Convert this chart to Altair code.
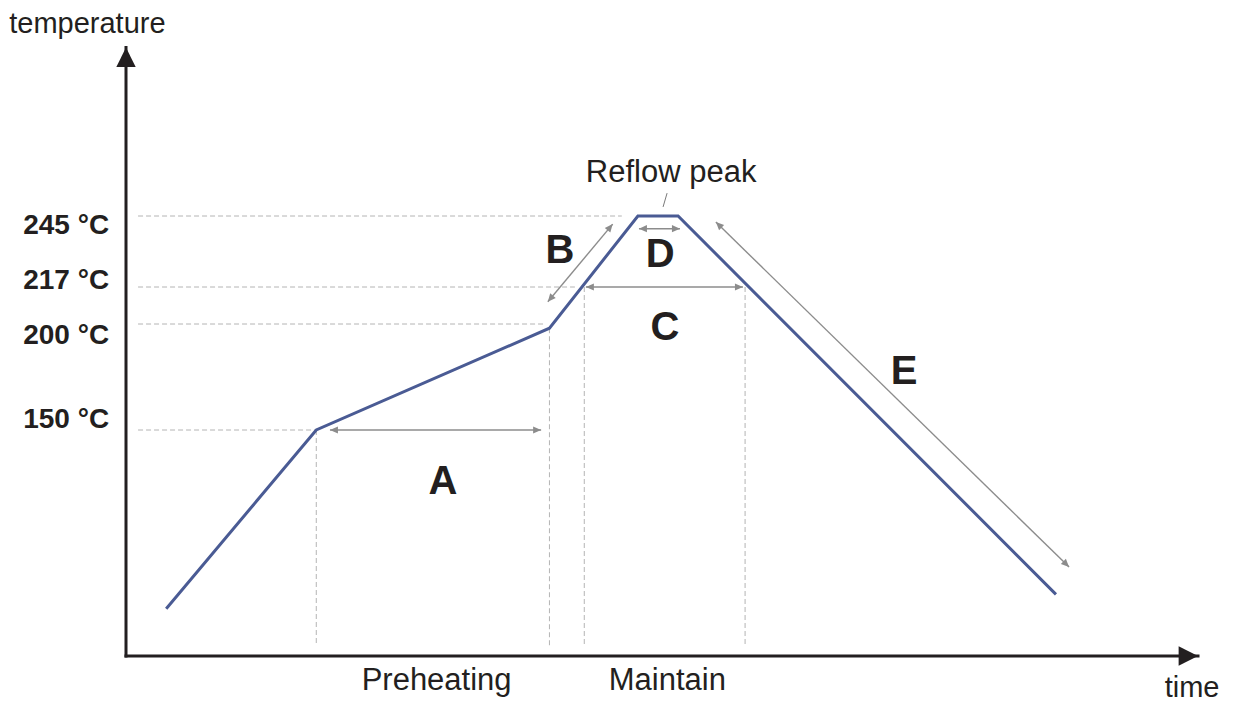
import altair as alt
import pandas as pd

# ---------------- data (time in arbitrary units, temperature in °C) ----------------
profile_time = [15, 71, 158, 191, 206, 347]
profile_temp = [63, 150, 198, 245, 245, 70]

level_temp = [245, 217, 200, 150]
level_label = ["245 °C", "217 °C", "200 °C", "150 °C"]
level_end_time = [185, 167.5, 156, 71]

drop_time = [71, 158, 171, 231]
drop_top_temp = [150, 198, 217, 217]

span_name = ["A", "B", "C", "D", "E"]
span_t1 = [76.1, 157.4, 171.6, 191.4, 220.1]
span_T1 = [150, 210.2, 217, 240, 242.6]
span_t2 = [154.9, 181.6, 230.2, 206.7, 351.9]
span_T2 = [150, 241.8, 217, 240, 83.3]

letter_t = [118.3, 161.9, 201.1, 199.3, 290.3]
letter_T = [118.9, 226.5, 192.5, 224.9, 171.7]

phase_label = ["Preheating", "Maintain"]
phase_t = [115.9, 202]
phase_T = [23.5, 23.5]

peak_label = "Reflow peak"
peak_t, peak_T = 203.4, 258.5
leader_t = [200.4, 201.9]
leader_T = [248.6, 254.1]

axis_t_max = 400
axis_T_min, axis_T_max = 40, 312

# ---------------- layout / style ----------------
span_angle1 = [270, 219.9, 270, 270, 314.3]
span_angle2 = [90, 39.9, 90, 90, 134.3]
level_dy = [18, 2, 20, -2]
FONT = "Liberation Sans"
INK = "#231f20"
LINE = "#4a5b94"
GREY = "#8c8c8c"
DASH = "#b4b4b4"
HEAD = "M0,0 L0.45,1 L-0.45,1 Z"
AXHEAD = "M0,0 L0.5,1 L-0.5,1 Z"

xs = alt.Scale(domain=[0, 400], range=[118, 1190], nice=False, zero=False)
ys = alt.Scale(domain=[40, 150, 200, 217, 245, 313], range=[648, 422, 316, 279, 208, 37],
               nice=False, zero=False)


def X(f="t"):
    return alt.X(f"{f}:Q", scale=xs, axis=None)


def Y(f="T"):
    return alt.Y(f"{f}:Q", scale=ys, axis=None)


profile = pd.DataFrame({"t": profile_time, "T": profile_temp, "i": range(len(profile_time))})

hlines = pd.DataFrame({"t": [4.5] * 4, "t2": level_end_time, "T": level_temp})
vlines = pd.DataFrame({"t": drop_time, "T": drop_top_temp, "T2": [45] * 4})
spans = pd.DataFrame({"t": span_t1, "T": span_T1, "t2": span_t2, "T2": span_T2})
heads = pd.DataFrame({
    "t": span_t1 + span_t2,
    "T": span_T1 + span_T2,
    "a": span_angle1 + span_angle2,
})
letters = pd.DataFrame({"t": letter_t, "T": letter_T, "s": span_name})
phases = pd.DataFrame({"t": phase_t, "T": phase_T, "s": phase_label})
peak = pd.DataFrame({"t": [peak_t], "T": [peak_T], "s": [peak_label]})
leader = pd.DataFrame({"t": [leader_t[0]], "T": [leader_T[0]], "t2": [leader_t[1]], "T2": [leader_T[1]]})
axes = pd.DataFrame({"t": [0, 0], "T": [axis_T_min, axis_T_min],
                     "t2": [0, axis_t_max], "T2": [axis_T_max, axis_T_min]})
axheads = pd.DataFrame({"t": [0, axis_t_max], "T": [axis_T_max, axis_T_min], "a": [0, 90]})
axtitles = pd.DataFrame({"t": [-14.4, 397.8], "T": [317.8, 20], "s": ["temperature", "time"]})

layers = []

layers.append(alt.Chart(hlines).mark_rule(color=DASH, strokeWidth=1, strokeDash=[5, 3]).encode(
    x=X(), x2="t2:Q", y=Y()))
layers.append(alt.Chart(vlines).mark_rule(color=DASH, strokeWidth=1, strokeDash=[5, 3]).encode(
    x=X(), y=Y(), y2="T2:Q"))

layers.append(alt.Chart(spans).mark_rule(color=GREY, strokeWidth=1.4).encode(
    x=X(), y=Y(), x2="t2:Q", y2="T2:Q"))
layers.append(alt.Chart(heads).mark_point(shape=HEAD, filled=True, color=GREY, opacity=1,
                                          size=256, strokeWidth=0).encode(
    x=X(), y=Y(), angle=alt.Angle("a:Q", scale=None)))

layers.append(alt.Chart(leader).mark_rule(color="#7a7a7a", strokeWidth=1).encode(
    x=X(), y=Y(), x2="t2:Q", y2="T2:Q"))

layers.append(alt.Chart(profile).mark_line(color=LINE, strokeWidth=3, strokeJoin="miter").encode(
    x=X(), y=Y(), order="i:Q"))

layers.append(alt.Chart(axes).mark_rule(color=INK, strokeWidth=3, strokeCap="square").encode(
    x=X(), y=Y(), x2="t2:Q", y2="T2:Q"))
layers.append(alt.Chart(axheads).mark_point(shape=AXHEAD, filled=True, color=INK, opacity=1,
                                            size=1500, strokeWidth=0).encode(
    x=X(), y=Y(), angle=alt.Angle("a:Q", scale=None)))

layers.append(alt.Chart(letters).mark_text(font=FONT, fontSize=40, fontWeight="bold", color=INK,
                                           baseline="alphabetic", align="center").encode(
    x=X(), y=Y(), text="s:N"))
layers.append(alt.Chart(phases).mark_text(font=FONT, fontSize=31, color=INK,
                                          baseline="alphabetic", align="center").encode(
    x=X(), y=Y(), text="s:N"))
layers.append(alt.Chart(peak).mark_text(font=FONT, fontSize=31, color=INK,
                                        baseline="alphabetic", align="center").encode(
    x=X(), y=Y(), text="s:N"))
layers.append(alt.Chart(axtitles).mark_text(font=FONT, fontSize=29, color=INK,
                                            baseline="alphabetic", align="center").encode(
    x=X(), y=Y(), text="s:N"))

for temp, lab, dy in zip(level_temp, level_label, level_dy):
    d = pd.DataFrame({"t": [-6.3], "T": [temp], "s": [lab]})
    layers.append(alt.Chart(d).mark_text(font=FONT, fontSize=28, fontWeight="bold", color=INK,
                                         baseline="alphabetic", align="right", dy=dy).encode(
        x=X(), y=Y(), text="s:N"))

chart = alt.layer(*layers).properties(
    width=1217, height=694,
    autosize=alt.AutoSizeParams(type="none"),
    padding=0,
).configure_view(stroke=None)

chart.save("out.html", embed_options={"renderer": "svg", "actions": False})
